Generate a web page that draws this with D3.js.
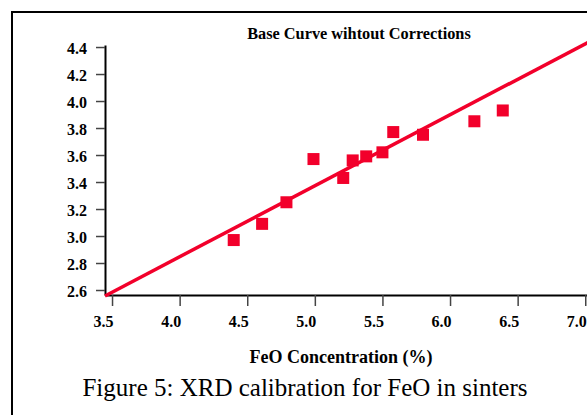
<!DOCTYPE html>
<html>
<head>
<meta charset="utf-8">
<script src="https://cdn.jsdelivr.net/npm/d3@7"></script>
<style>
body { margin: 0; background: #fff; }
svg { display: block; }
</style>
</head>
<body>
<svg width="587" height="415"></svg>
<script>
// measured FeO (%) vs XRD ratio
var feo = [4.40, 4.61, 4.79, 4.99, 5.21, 5.28, 5.38, 5.50, 5.58, 5.80, 6.18, 6.39];
var xrd = [2.97, 3.09, 3.25, 3.57, 3.43, 3.56, 3.59, 3.62, 3.77, 3.75, 3.85, 3.93];

// calibration line end points
var fitX = [3.448, 7.02];
var fitY = [2.556, 4.434];

var xTicks = [3.5, 4.0, 4.5, 5.0, 5.5, 6.0, 6.5, 7.0];
var yTicks = [2.6, 2.8, 3.0, 3.2, 3.4, 3.6, 3.8, 4.0, 4.2, 4.4];

var svg = d3.select('svg');
var red = '#f2002b';

var xScale = d3.scaleLinear().domain([3.448, 7.013]).range([105, 587]);
var yScale = d3.scaleLinear().domain([2.563, 4.415]).range([295, 45]);

// frame
svg.append('rect')
	.attr('x', 12).attr('y', 12)
	.attr('width', 700).attr('height', 600)
	.attr('fill', 'none')
	.attr('stroke', '#000')
	.attr('stroke-width', 2);

var xAxis = d3.axisBottom(xScale)
	.tickValues(xTicks)
	.tickFormat(d3.format('.1f'))
	.tickSize(11)
	.tickSizeOuter(0);

var yAxis = d3.axisLeft(yScale)
	.tickValues(yTicks)
	.tickFormat(d3.format('.1f'))
	.tickSize(9)
	.tickSizeOuter(0);

var gx = svg.append('g')
	.attr('transform', 'translate(0,295)')
	.call(xAxis);

var gy = svg.append('g')
	.attr('transform', 'translate(105,0)')
	.call(yAxis);

[gx, gy].forEach(function (g) {
	g.select('.domain').attr('stroke', '#000').attr('stroke-width', 2);
	g.selectAll('.tick line').attr('stroke', '#444').attr('stroke-width', 1.5);
	g.selectAll('.tick text')
		.attr('fill', '#000')
		.style('font-family', '"Liberation Serif", "Times New Roman", serif')
		.style('font-weight', 'bold')
		.style('font-size', '16px');
});

gx.selectAll('.tick text')
	.attr('text-anchor', 'end')
	.attr('x', 1)
	.attr('y', 32)
	.attr('dy', null);

gy.selectAll('.tick text')
	.attr('x', -18)
	.attr('dy', 6.5);

// fitted line
var line = d3.line()
	.x(function (d) { return xScale(d[0]); })
	.y(function (d) { return yScale(d[1]); });

svg.append('path')
	.datum(d3.zip(fitX, fitY))
	.attr('d', line)
	.attr('fill', 'none')
	.attr('stroke', red)
	.attr('stroke-width', 3.5);

// data points
var side = 12;
svg.selectAll('rect.pt')
	.data(d3.zip(feo, xrd))
	.enter()
	.append('rect')
	.attr('class', 'pt')
	.attr('x', function (d) { return xScale(d[0]) - side / 2; })
	.attr('y', function (d) { return yScale(d[1]) - side / 2; })
	.attr('width', side)
	.attr('height', side)
	.attr('fill', red);

// texts
svg.append('text')
	.attr('x', 359).attr('y', 39)
	.attr('text-anchor', 'middle')
	.style('font-family', '"Liberation Serif", "Times New Roman", serif')
	.style('font-weight', 'bold')
	.style('font-size', '16.3px')
	.text('Base Curve wihtout Corrections');

svg.append('text')
	.attr('x', 341).attr('y', 362.5)
	.attr('text-anchor', 'middle')
	.style('font-family', '"Liberation Serif", "Times New Roman", serif')
	.style('font-weight', 'bold')
	.style('font-size', '18px')
	.text('FeO Concentration (%)');

svg.append('text')
	.attr('x', 305).attr('y', 396)
	.attr('text-anchor', 'middle')
	.style('font-family', '"Liberation Serif", "Times New Roman", serif')
	.style('font-size', '25px')
	.text('Figure 5: XRD calibration for FeO in sinters');
</script>
</body>
</html>
